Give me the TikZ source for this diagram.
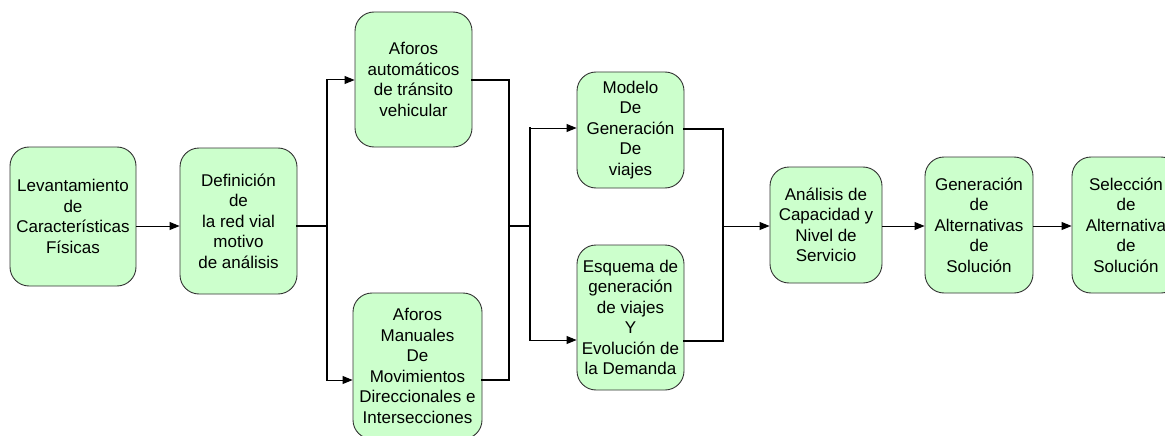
\documentclass[tikz,border=0pt]{standalone}
\usepackage{fontspec}
\setmainfont{Liberation Sans}
\usetikzlibrary{arrows.meta}
\definecolor{boxfill}{HTML}{CCFFCC}
\definecolor{boxline}{HTML}{333333}
\tikzset{
  stepbox/.style={draw=boxline, fill=boxfill, line width=0.9pt, rounded corners=19pt,
    align=center, inner sep=1pt, font=\fontsize{17}{20.5}\selectfont},
  trunk/.style={line width=2pt, line cap=rect},
  arr/.style={line width=1pt, -{Triangle[length=10pt,width=8pt]}},
}
\begin{document}
\begin{tikzpicture}[x=1pt,y=-1pt]
\useasboundingbox (0,0) rectangle (1165,436);
\clip (0,0) rectangle (1165,436);
\node[stepbox, minimum width=126pt, minimum height=139pt] (b1) at (73,216.5)
  {Levantamiento\\de\\Características\\Físicas};
\node[stepbox, minimum width=117pt, minimum height=146pt] (b2) at (238.5,221)
  {Definición\\de\\la red vial\\motivo\\de análisis};
\node[stepbox, minimum width=117pt, minimum height=135pt] (b3) at (413.5,79.5)
  {Aforos\\automáticos\\de tránsito\\vehicular};
\node[stepbox, minimum width=129pt, minimum height=146pt] (b4) at (417.5,366)
  {Aforos\\Manuales\\De\\Movimientos\\Direccionales e\\Intersecciones};
\node[stepbox, minimum width=107pt, minimum height=116pt] (b5) at (630.5,130)
  {Modelo\\De\\Generación\\De\\viajes};
\node[stepbox, minimum width=107pt, minimum height=145pt] (b6) at (630.5,317.5)
  {Esquema de\\generación\\de viajes\\Y\\Evolución de\\la Demanda};
\node[stepbox, minimum width=112pt, minimum height=116pt] (b7) at (826,225)
  {Análisis de\\Capacidad y\\Nivel de\\Servicio};
\node[stepbox, minimum width=108pt, minimum height=136pt] (b8) at (979,225)
  {Generación\\de\\Alternativas\\de\\Solución};
\node[stepbox, minimum width=108pt, minimum height=136pt] (b9) at (1126,225)
  {Selección\\de\\Alternativa\\de\\Solución};
% junction coordinates
\coordinate (m) at (0,226);
\coordinate (j1) at (327,226);
\coordinate (j1t) at (327,80);
\coordinate (j1b) at (327,380);
\coordinate (j2t) at (509,80);
\coordinate (j2b) at (509,380);
\coordinate (j2) at (509,226);
\coordinate (j3) at (530,226);
\coordinate (j3t) at (530,128);
\coordinate (j3b) at (530,340);
\coordinate (j4t) at (723,129);
\coordinate (j4b) at (723,341);
\coordinate (j4) at (723,226);
% connectors
\draw[arr] (b1.east |- m) -- (b2.west |- m);
\draw[trunk] (b2.east |- m) -- (j1);
\draw[trunk] (j1t) -- (j1b);
\draw[arr] (j1t) -- (b3.west |- j1t);
\draw[arr] (j1b) -- (b4.west |- j1b);
\draw[trunk] (b3.east |- j2t) -- (j2t) -- (j2b) -- (b4.east |- j2b);
\draw[trunk] (j2) -- (j3);
\draw[trunk] (j3t) -- (j3b);
\draw[arr] (j3t) -- (b5.west |- j3t);
\draw[arr] (j3b) -- (b6.west |- j3b);
\draw[trunk] (b5.east |- j4t) -- (j4t) -- (j4b) -- (b6.east |- j4b);
\draw[arr] (j4) -- (b7.west |- j4);
\draw[arr] (b7.east |- m) -- (b8.west |- m);
\draw[arr] (b8.east |- m) -- (b9.west |- m);
\end{tikzpicture}
\end{document}
